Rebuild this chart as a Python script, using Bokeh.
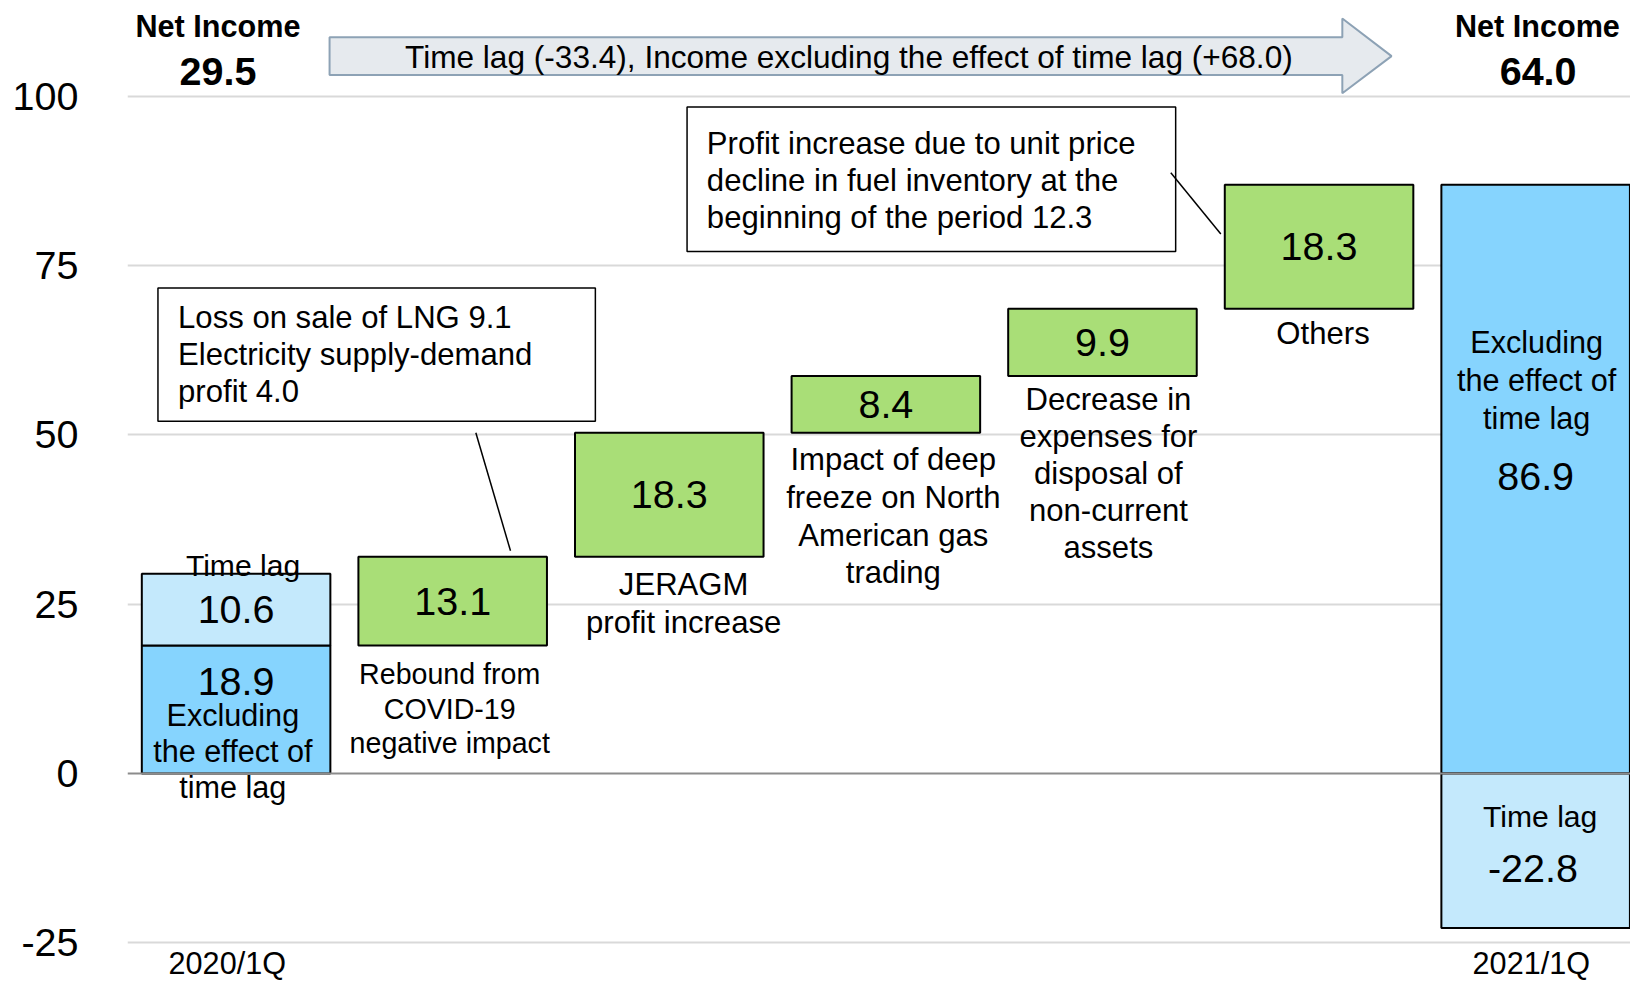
import numpy as np
from bokeh.plotting import figure
from bokeh.models import Range1d, FixedTicker, Span
from bokeh.core.properties import value
from bokeh.embed import file_html
from bokeh.resources import INLINE

# ---------------- data ----------------
start_excl = 18.9          # 2020/1Q income excluding the effect of time lag
start_lag = 10.6           # 2020/1Q time lag
start_total_label = "29.5"
changes = [13.1, 18.3, 8.4, 9.9, 18.3]
change_labels = [
    ["Rebound from", "COVID-19", "negative impact"],
    ["JERAGM", "profit increase"],
    ["Impact of deep", "freeze on North", "American gas", "trading"],
    ["Decrease in", "expenses for", "disposal of", "non-current", "assets"],
    ["Others"],
]
end_excl = 86.9            # 2021/1Q income excluding the effect of time lag
end_lag = -22.8            # 2021/1Q time lag
end_total_label = "64.0"
period_labels = ["2020/1Q", "2021/1Q"]
total_title = "Net Income"
excl_label = ["Excluding", "the effect of", "time lag"]
lag_label = "Time lag"
y_ticks = [-25, 0, 25, 50, 75, 100]
arrow_text = "Time lag (-33.4), Income excluding the effect of time lag (+68.0)"
callout1 = ["Loss on sale of LNG 9.1", "Electricity supply-demand", "profit 4.0"]
callout2 = ["Profit increase due to unit price", "decline in fuel inventory at the",
            "beginning of the period 12.3"]

# ---------------- layout (reference pixel geometry) ----------------
W, H = 1630, 982
KX, KY = W / 1646.0, H / 998.0
FS = (KX + KY) / 2
CAT_PX = 218.72     # px per category
CAT0_PX = 237.9     # px of first category centre
Y0_PX = 785.7       # px of y = 0
UNIT_PX = 6.886     # px per y unit
LEFT = 127
FONT = value("Liberation Sans")


def fx(X):
    return (X - CAT0_PX) / CAT_PX


def fy(Y):
    return (Y0_PX - Y) / UNIT_PX


def ddx(d):
    return d / CAT_PX


def ddy(d):
    return d / UNIT_PX


def fsz(s):
    return value(f"{s * FS:.1f}px")


p = figure(width=W, height=H,
           x_range=Range1d(fx(LEFT / KX), fx(1646)),
           y_range=Range1d(fy(998), fy(0)),
           output_backend="svg", toolbar_location=None, x_axis_location=None,
           min_border_left=LEFT, min_border_right=0, min_border_top=0,
           min_border_bottom=0, outline_line_color=None,
           background_fill_color="white", border_fill_color="white")

yax = p.yaxis[0]
yax.ticker = FixedTicker(ticks=y_ticks)
yax.major_label_overrides = {t: str(t) for t in y_ticks}
yax.axis_line_color = None
yax.major_tick_line_color = None
yax.minor_tick_line_color = None
yax.major_tick_out = 0
yax.major_tick_in = 0
yax.minor_tick_out = 0
yax.major_label_standoff = 49
yax.major_label_text_font = "Liberation Sans"
yax.major_label_text_font_size = f"{40 * FS:.1f}px"
yax.major_label_text_color = "black"

for g in p.ygrid:
    g.ticker = FixedTicker(ticks=[t for t in y_ticks if t != 0])
    g.grid_line_color = "#d9d9d9"
    g.grid_line_width = 2
for g in p.xgrid:
    g.visible = False

SKY = "#86D4FE"
LIGHT = "#C4E9FC"
GREEN = "#A9DE77"
BW = 0.8705

# ---------------- bars ----------------
tops = start_excl + np.cumsum(changes)
bottoms = tops - np.array(changes)
n = len(changes)
end_x = n + 1
mid_x = list(range(1, n + 1))

p.vbar(x=[0, end_x], bottom=[0, 0], top=[start_excl, end_excl], width=BW,
       fill_color=SKY, line_color="black", line_width=2)
p.vbar(x=[0, end_x], bottom=[start_excl, 0], top=[start_excl + start_lag, end_lag],
       width=BW, fill_color=LIGHT, line_color="black", line_width=2)
p.vbar(x=mid_x, bottom=list(bottoms), top=list(tops), width=BW,
       fill_color=GREEN, line_color="black", line_width=2)

p.add_layout(Span(location=0, dimension="width", line_color="#8c8c8c", line_width=2))


def txt(x, y, s, size, align="center", mid=False, bold=False):
    # y is the alphabetic baseline (data units) unless mid=True
    yy = y if mid else y + ddy(0.355 * size)
    p.text(x=[x], y=[yy], text=[s], text_font=FONT, text_font_size=fsz(size),
           text_align=align, text_baseline="middle", text_color="black",
           text_font_style="bold" if bold else "normal")


# ---------------- callouts ----------------
p.quad(left=[fx(159)], right=[fx(600.7)], top=[fy(292.3)], bottom=[fy(427.7)],
       fill_color="white", line_color="black", line_width=1.5)
p.segment(x0=[fx(480)], y0=[fy(439.3)], x1=[fx(515)], y1=[fy(559.3)],
          line_color="black", line_width=1.5)
for i, s in enumerate(callout1):
    txt(fx(179.3), fy(333.3 + 37.5 * i), s, 31.5, align="left")

p.quad(left=[fx(693.3)], right=[fx(1186.7)], top=[fy(108.3)], bottom=[fy(255)],
       fill_color="white", line_color="black", line_width=1.5)
p.segment(x0=[fx(1181.8)], y0=[fy(175)], x1=[fx(1232.3)], y1=[fy(237.3)],
          line_color="black", line_width=1.5)
for i, s in enumerate(callout2):
    txt(fx(713.3), fy(156.7 + 37.5 * i), s, 31.5, align="left")

# ---------------- arrow ----------------
ax_px = [332.3, 1355, 1355, 1404.7, 1355, 1355, 332.3]
ay_px = [37.3, 37.3, 18.3, 56.5, 94.3, 75.7, 75.7]
p.patch(x=[fx(v) for v in ax_px], y=[fy(v) for v in ay_px],
        fill_color="#E6EAEE", line_color="#8DA2B5", line_width=2)
txt(fx(856.7), fy(68.3), arrow_text, 32)

# ---------------- start bar texts ----------------
txt(0 + ddx(7), start_excl + start_lag - ddy(2.4), lag_label, 30.5)
txt(0, start_excl + start_lag / 2, f"{start_lag:.1f}", 40, mid=True)
txt(0, start_excl - ddy(51), f"{start_excl:.1f}", 40)
for i, s in enumerate(excl_label):
    txt(0 - ddx(3.3), 0 + ddy(49) - ddy(36.7 * i), s, 31)

# ---------------- change bars texts ----------------
label_first = [39.4, 39.7, 38.7, 35.2, 36.7]
label_step = [35, 38, 38.3, 37.5, 37.5]
label_size = [29, 31.5, 31.5, 31.5, 31.5]
label_dx = [-3, 14.5, 7.5, 6, 4]
for k in range(n):
    xk = mid_x[k]
    txt(xk, (bottoms[k] + tops[k]) / 2, f"{changes[k]:.1f}", 40, mid=True)
    for j, s in enumerate(change_labels[k]):
        txt(xk + ddx(label_dx[k]),
            bottoms[k] - ddy(label_first[k] + label_step[k] * j), s, label_size[k])

# ---------------- end bar texts ----------------
for i, s in enumerate(excl_label):
    txt(end_x + ddx(1), end_excl - ddy(171 + 38.35 * i), s, 31)
txt(end_x, end_excl - ddy(311), f"{end_excl:.1f}", 40)
txt(end_x + ddx(4.6), 0 - ddy(54.3), lag_label, 30.5)
txt(end_x - ddx(2.7), 0 - ddy(111), f"{end_lag:.1f}", 40)

# ---------------- totals & periods ----------------
txt(0 - ddx(18.3), fy(37), total_title, 31, bold=True)
txt(0 - ddx(18.3), fy(86), start_total_label, 40, bold=True)
txt(end_x + ddx(1.8), fy(37), total_title, 31, bold=True)
txt(end_x + ddx(2.5), fy(86), end_total_label, 40, bold=True)
txt(0 - ddx(8.9), fy(989), period_labels[0], 31)
txt(end_x - ddx(4.4), fy(989), period_labels[1], 31)

open("out.html", "w").write(file_html(p, INLINE))
